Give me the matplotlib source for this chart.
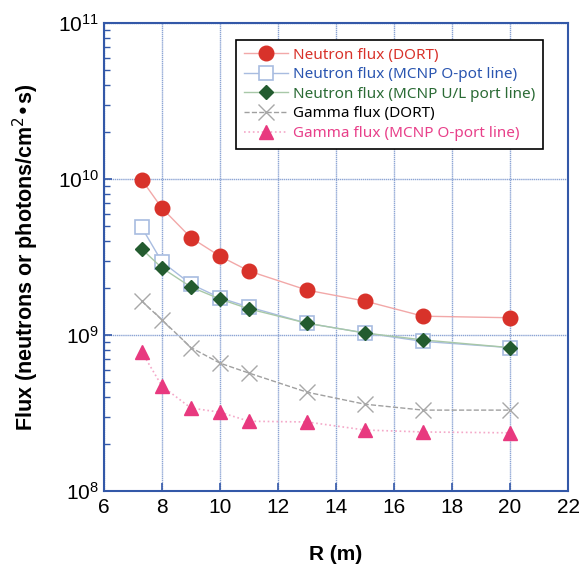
import matplotlib
matplotlib.use("Agg")
import matplotlib.pyplot as plt
from matplotlib.ticker import LogLocator, NullFormatter, MultipleLocator

plt.rcParams['font.family'] = ['Liberation Sans', 'DejaVu Sans']

# data
r = [7.3, 8, 9, 10, 11, 13, 15, 17, 20]
neutron_dort = [9.9e9, 6.5e9, 4.2e9, 3.2e9, 2.57e9, 1.94e9, 1.65e9, 1.32e9, 1.29e9]
neutron_mcnp_o = [4.9e9, 2.94e9, 2.12e9, 1.73e9, 1.51e9, 1.19e9, 1.03e9, 9.1e8, 8.3e8]
neutron_mcnp_ul = [3.56e9, 2.69e9, 2.03e9, 1.70e9, 1.47e9, 1.19e9, 1.03e9, 9.3e8, 8.3e8]
gamma_dort = [1.65e9, 1.25e9, 8.3e8, 6.6e8, 5.7e8, 4.3e8, 3.6e8, 3.3e8, 3.3e8]
gamma_mcnp = [7.8e8, 4.7e8, 3.4e8, 3.2e8, 2.8e8, 2.77e8, 2.46e8, 2.39e8, 2.36e8]

labels = ["Neutron flux (DORT)", "Neutron flux (MCNP O-pot line)",
          "Neutron flux (MCNP U/L port line)", "Gamma flux (DORT)",
          "Gamma flux (MCNP O-port line)"]
text_colors = ["#d8322a", "#2a55b0", "#2b6b35", "black", "#e8408a"]

fig = plt.figure(figsize=(5.81, 5.74), dpi=100)
ax = fig.add_axes([104/581, 1 - 491/574, 464/581, 468/574])

spine_c = "#3358a8"
grid_c = "#8ca4d4"

ax.plot(r, neutron_dort, '-', color="#f2a8a8", lw=1.0, marker='o', ms=10.5,
        mfc="#d8322a", mec="#d8322a", label=labels[0], zorder=5)
ax.plot(r, neutron_mcnp_o, '-', color="#a8bce0", lw=1.0, marker='s', ms=10.5,
        mfc="white", mec="#a8bce0", mew=1.2, label=labels[1], zorder=3)
ax.plot(r, neutron_mcnp_ul, '-', color="#a8c8a8", lw=1.0, marker='D', ms=7.5,
        mfc="#235b2f", mec="#235b2f", label=labels[2], zorder=4)
ax.plot(r, gamma_dort, '--', color="#a0a0a0", lw=1.0, marker='x', ms=11,
        mec="#a8a8a8", mew=1.0, label=labels[3], zorder=3)
ax.plot(r, gamma_mcnp, ':', color="#f4a8c8", lw=1.2, marker='^', ms=9.5,
        mfc="#e8397f", mec="#e8397f", label=labels[4], zorder=4)

ax.set_yscale('log')
ax.set_xlim(6, 22)
ax.set_ylim(1e8, 1e11)
ax.xaxis.set_major_locator(MultipleLocator(2))
ax.yaxis.set_major_locator(LogLocator(base=10, numticks=10))
ax.yaxis.set_minor_locator(LogLocator(base=10, subs=range(2, 10), numticks=20))
ax.yaxis.set_minor_formatter(NullFormatter())

ax.grid(True, which='major', color=grid_c, lw=1.0, ls=(0, (1, 0.5)))
for s in ax.spines.values():
    s.set_color(spine_c)
    s.set_linewidth(1.5)
ax.tick_params(which='both', direction='in', colors=spine_c, labelcolor='black',
               labelsize=15, top=False, right=False)
ax.tick_params(which='major', length=6, width=1.2)
ax.tick_params(which='minor', length=4, width=1.0)
ax.tick_params(axis='x', pad=5)

ax.set_xlabel("R (m)", fontsize=15, fontweight='bold', labelpad=20)
ax.set_ylabel("Flux (neutrons or photons/cm$^2$•s)", fontsize=15.5,
              fontweight='bold', labelpad=12)

leg = ax.legend(loc='upper left', bbox_to_anchor=((236 - 104)/464, (491 - 40)/468),
                frameon=True, fancybox=False, edgecolor='black',
                framealpha=1, borderpad=0.5, labelspacing=0.3, handlelength=2.9,
                handletextpad=0.35, borderaxespad=0,
                prop={'family': ['Noto Sans', 'DejaVu Sans'], 'size': 11})
leg.get_frame().set_linewidth(1.2)
for t, c in zip(leg.get_texts(), text_colors):
    t.set_color(c)

fig.savefig("out.png", dpi=100)
